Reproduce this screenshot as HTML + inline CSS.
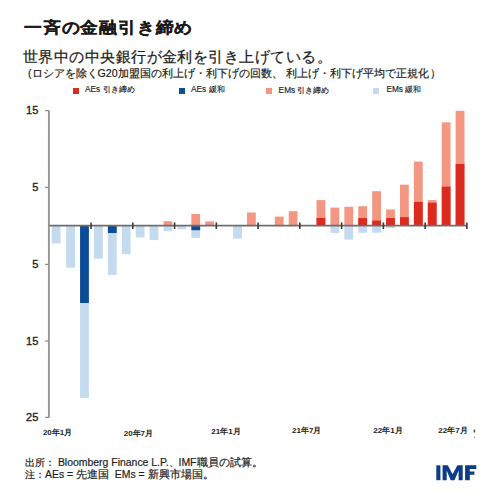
<!DOCTYPE html>
<html><head><meta charset="utf-8">
<style>
html,body{margin:0;padding:0;background:#fff;width:500px;height:500px;overflow:hidden}
body{position:relative;font-family:"Liberation Sans",sans-serif;color:#1e1e1e}
.a{position:absolute;white-space:nowrap;line-height:1}
.t{left:24px;top:18px;font-size:18.3px;letter-spacing:0.8px;font-weight:bold;color:#1a1a1a;-webkit-text-stroke:0.2px #1a1a1a;transform:scaleY(0.9);transform-origin:0 100%}
.s{left:23px;top:48.7px;font-size:15px;letter-spacing:0.45px;color:#1e1e1e;-webkit-text-stroke:0.25px #1e1e1e}
.p{left:28px;top:68px;font-size:10.65px;color:#222;-webkit-text-stroke:0.2px #222}
.lg{position:absolute;font-size:8.3px;line-height:1;white-space:nowrap;color:#222;-webkit-text-stroke:0.15px #222}
.sq{position:absolute;width:6px;height:5.5px}
.yl{position:absolute;left:0;width:38.3px;text-align:right;font-size:11px;line-height:14px;color:#222;-webkit-text-stroke:0.35px #222}
.xl{position:absolute;width:40px;text-align:center;font-size:8px;line-height:1;font-weight:bold;color:#222}
.f{left:25px;font-size:10.45px;color:#1e1e1e;white-space:pre;-webkit-text-stroke:0.2px #1e1e1e}
svg{position:absolute;left:0;top:0}
</style></head><body>
<svg width="500" height="500" viewBox="0 0 500 500">
<rect x="51.70" y="225.70" width="8.8" height="17.70" fill="#c4daef"/>
<rect x="66.16" y="225.70" width="8.8" height="42.00" fill="#c4daef"/>
<rect x="80.07" y="225.70" width="8.8" height="172.30" fill="#c4daef"/>
<rect x="80.07" y="225.70" width="8.8" height="77.30" fill="#0c4c98"/>
<rect x="93.98" y="225.70" width="8.8" height="33.00" fill="#c4daef"/>
<rect x="107.89" y="225.70" width="8.8" height="49.20" fill="#c4daef"/>
<rect x="107.89" y="225.70" width="8.8" height="7.30" fill="#0c4c98"/>
<rect x="121.80" y="225.70" width="8.8" height="28.50" fill="#c4daef"/>
<rect x="135.71" y="225.70" width="8.8" height="11.70" fill="#c4daef"/>
<rect x="149.62" y="225.70" width="8.8" height="14.40" fill="#c4daef"/>
<rect x="163.53" y="221.20" width="8.8" height="4.50" fill="#f39682"/>
<rect x="163.53" y="225.70" width="8.8" height="5.40" fill="#c4daef"/>
<rect x="177.44" y="225.70" width="8.8" height="3.60" fill="#c4daef"/>
<rect x="191.35" y="214.00" width="8.8" height="11.70" fill="#f39682"/>
<rect x="191.35" y="225.70" width="8.8" height="12.20" fill="#c4daef"/>
<rect x="191.35" y="225.70" width="8.8" height="4.50" fill="#0c4c98"/>
<rect x="205.26" y="221.40" width="8.8" height="4.30" fill="#f39682"/>
<rect x="233.08" y="225.70" width="8.8" height="12.90" fill="#c4daef"/>
<rect x="246.99" y="212.50" width="8.8" height="13.20" fill="#f39682"/>
<rect x="274.81" y="216.60" width="8.8" height="9.10" fill="#f39682"/>
<rect x="288.72" y="211.20" width="8.8" height="14.50" fill="#f39682"/>
<rect x="316.54" y="200.10" width="8.8" height="25.60" fill="#f39682"/>
<rect x="316.54" y="218.00" width="8.8" height="7.70" fill="#dc2a1f"/>
<rect x="330.45" y="207.60" width="8.8" height="18.10" fill="#f39682"/>
<rect x="330.45" y="225.70" width="8.8" height="7.20" fill="#c4daef"/>
<rect x="344.36" y="206.80" width="8.8" height="18.90" fill="#f39682"/>
<rect x="344.36" y="225.70" width="8.8" height="13.90" fill="#c4daef"/>
<rect x="358.27" y="206.20" width="8.8" height="19.50" fill="#f39682"/>
<rect x="358.27" y="218.10" width="8.8" height="7.60" fill="#dc2a1f"/>
<rect x="358.27" y="225.70" width="8.8" height="7.10" fill="#c4daef"/>
<rect x="372.18" y="191.20" width="8.8" height="34.50" fill="#f39682"/>
<rect x="372.18" y="220.60" width="8.8" height="5.10" fill="#dc2a1f"/>
<rect x="372.18" y="225.70" width="8.8" height="7.00" fill="#c4daef"/>
<rect x="386.09" y="209.40" width="8.8" height="16.30" fill="#f39682"/>
<rect x="386.09" y="218.10" width="8.8" height="7.60" fill="#dc2a1f"/>
<rect x="386.09" y="225.70" width="8.8" height="2.30" fill="#c4daef"/>
<rect x="400.00" y="184.70" width="8.8" height="41.00" fill="#f39682"/>
<rect x="400.00" y="217.20" width="8.8" height="8.50" fill="#dc2a1f"/>
<rect x="413.91" y="161.60" width="8.8" height="64.10" fill="#f39682"/>
<rect x="413.91" y="201.90" width="8.8" height="23.80" fill="#dc2a1f"/>
<rect x="427.82" y="200.10" width="8.8" height="25.60" fill="#f39682"/>
<rect x="427.82" y="202.70" width="8.8" height="23.00" fill="#dc2a1f"/>
<rect x="441.73" y="122.30" width="8.8" height="103.40" fill="#f39682"/>
<rect x="441.73" y="186.70" width="8.8" height="39.00" fill="#dc2a1f"/>
<rect x="455.64" y="110.80" width="8.8" height="114.90" fill="#f39682"/>
<rect x="455.64" y="164.00" width="8.8" height="61.70" fill="#dc2a1f"/>
<line x1="48.9" y1="110.6" x2="48.9" y2="417.4" stroke="#959595" stroke-width="1.9"/>
<line x1="45" y1="110.6" x2="48.9" y2="110.6" stroke="#8a8a8a" stroke-width="1.2"/>
<line x1="45" y1="187.4" x2="48.9" y2="187.4" stroke="#8a8a8a" stroke-width="1.2"/>
<line x1="45" y1="264.4" x2="48.9" y2="264.4" stroke="#8a8a8a" stroke-width="1.2"/>
<line x1="45" y1="341" x2="48.9" y2="341" stroke="#8a8a8a" stroke-width="1.2"/>
<line x1="45" y1="417.4" x2="48.9" y2="417.4" stroke="#8a8a8a" stroke-width="1.2"/>
<line x1="49.3" y1="225.7" x2="466.9" y2="225.7" stroke="#6e6e6e" stroke-width="1.8"/>
<line x1="91.06" y1="222.39999999999998" x2="91.06" y2="229.0" stroke="#3a3a3a" stroke-width="1.6"/>
<line x1="132.82" y1="222.39999999999998" x2="132.82" y2="229.0" stroke="#3a3a3a" stroke-width="1.6"/>
<line x1="174.58" y1="222.39999999999998" x2="174.58" y2="229.0" stroke="#3a3a3a" stroke-width="1.6"/>
<line x1="216.34" y1="222.39999999999998" x2="216.34" y2="229.0" stroke="#3a3a3a" stroke-width="1.6"/>
<line x1="258.10" y1="222.39999999999998" x2="258.10" y2="229.0" stroke="#3a3a3a" stroke-width="1.6"/>
<line x1="299.86" y1="222.39999999999998" x2="299.86" y2="229.0" stroke="#3a3a3a" stroke-width="1.6"/>
<line x1="341.62" y1="222.39999999999998" x2="341.62" y2="229.0" stroke="#3a3a3a" stroke-width="1.6"/>
<line x1="383.38" y1="222.39999999999998" x2="383.38" y2="229.0" stroke="#3a3a3a" stroke-width="1.6"/>
<line x1="425.14" y1="222.39999999999998" x2="425.14" y2="229.0" stroke="#3a3a3a" stroke-width="1.6"/>
<line x1="466.90" y1="222.39999999999998" x2="466.90" y2="229.0" stroke="#3a3a3a" stroke-width="1.6"/>
<g fill="#0c3c88">
<rect x="436.3" y="465.3" width="4.1" height="14.9"/>
<polygon points="442.6,465.3 447.8,465.3 452.6,474.2 457.4,465.3 462.7,465.3 462.7,480.2 458.6,480.2 458.6,470.5 454.5,480.2 450.7,480.2 446.7,470.5 446.7,480.2 442.6,480.2"/>
<polygon points="465.1,465.3 476.3,465.3 476.3,468.9 469.8,468.9 469.8,471.5 474.4,471.5 474.4,474.7 469.8,474.7 469.8,480.2 465.1,480.2"/>
</g>
<ellipse cx="474.4" cy="431" rx="0.9" ry="1.8" fill="#555"/>
<circle cx="474.4" cy="437.2" r="0.9" fill="#aaa"/>
</svg>
<div class="a t">一斉の金融引き締め</div>
<div class="a s">世界中の中央銀行が金利を引き上げている。</div>
<div class="a p">(ロシアを除くG20加盟国の利上げ・利下げの回数、 利上げ・利下げ平均で正規化<span style="margin-right:-2px"> </span>）</div>
<div class="sq" style="left:73px;top:88.2px;background:#dc2a1f"></div>
<div class="lg" style="left:85px;top:85px">AEs 引き締め</div>
<div class="sq" style="left:179px;top:88px;background:#0c4c98"></div>
<div class="lg" style="left:191px;top:85px">AEs 緩和</div>
<div class="sq" style="left:266px;top:88.4px;background:#f39682"></div>
<div class="lg" style="left:278.6px;top:85.5px">EMs 引き締め</div>
<div class="sq" style="left:372.5px;top:88px;background:#c4daef"></div>
<div class="lg" style="left:386.4px;top:85px">EMs 緩和</div>
<div class="yl" style="top:103.1px">15</div>
<div class="yl" style="top:179.9px">5</div>
<div class="yl" style="top:256.9px">5</div>
<div class="yl" style="top:333.5px">15</div>
<div class="yl" style="top:409.9px">25</div>
<div class="xl" style="left:37.6px;top:428.8px">20年1月</div>
<div class="xl" style="left:118.4px;top:430.4px">20年7月</div>
<div class="xl" style="left:206.0px;top:428.3px">21年1月</div>
<div class="xl" style="left:286.7px;top:426.8px">21年7月</div>
<div class="xl" style="left:368.0px;top:426.8px">22年1月</div>
<div class="xl" style="left:433.0px;top:426.8px">22年7月</div>
<div class="a f" style="top:456.5px">出所： Bloomberg Finance L.P.、IMF<span style="font-size:11px">職員の試算。</span></div>
<div class="a f" style="top:468.5px">注：AEs = <span style="font-size:11px">先進国</span>  EMs = <span style="font-size:11px">新興市場国。</span></div>
</body></html>
